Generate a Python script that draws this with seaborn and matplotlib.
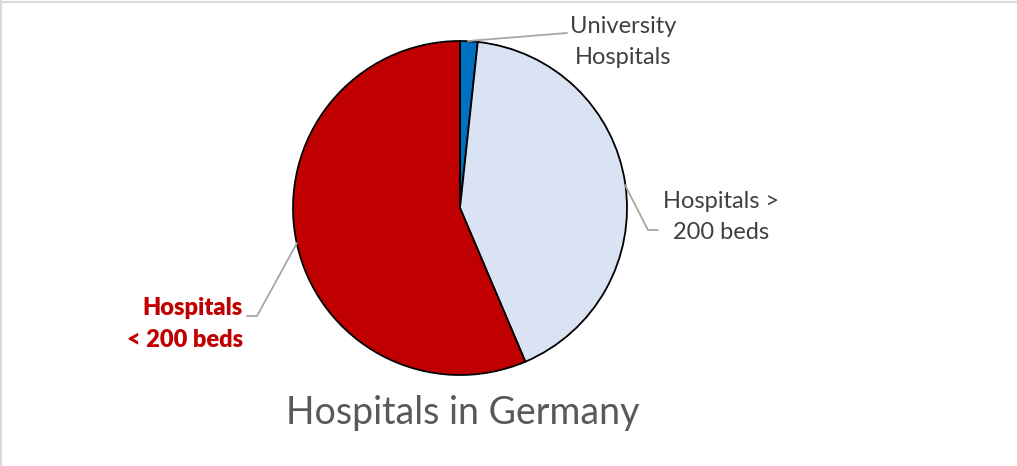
import matplotlib
matplotlib.use("Agg")
import matplotlib.pyplot as plt
import seaborn as sns
from matplotlib.lines import Line2D

# slice data, clockwise from 12 o'clock
labels = ["University\nHospitals", "Hospitals >\n200 beds", "Hospitals\n< 200 beds"]
shares = [1.7, 41.9, 56.4]
colors = ["#0070C0", "#DAE3F3", "#C00000"]

sns.set_theme(style="white")
plt.rcParams['font.family'] = ['Lato', 'DejaVu Sans']

W, H = 1017, 466
fig = plt.figure(figsize=(W / 100, H / 100), dpi=100)

# pie centre (460, 208) px, radius 167 px
cx, cy, r = 460, 208, 167
ax = fig.add_axes([(cx - r) / W, (H - cy - r) / H, 2 * r / W, 2 * r / H])
ax.pie(shares, colors=colors, startangle=90, counterclock=False, radius=1,
       wedgeprops={"edgecolor": "black", "linewidth": 1.3})
ax.set_xlim(-1, 1)
ax.set_ylim(-1, 1)
ax.set_aspect("equal")
ax.axis("off")


def px(x, y):
    return ((x - cx) / r, (cy - y) / r)


gray = "#A6A6A6"
txt = "#404040"
fs = 17

# University hospitals
ax.plot(*zip(px(468, 41), px(567, 33)), color=gray, lw=1.3, clip_on=False)
ax.text(*px(623, 42), labels[0], ha="center", va="center", fontsize=fs,
        color=txt, linespacing=1.55)

# > 200 beds
ax.plot(*zip(px(625, 185), px(648, 230), px(658, 230)), color=gray, lw=1.3,
        clip_on=False)
ax.text(*px(721, 217), labels[1], ha="center", va="center", fontsize=fs,
        color=txt, linespacing=1.55)

# < 200 beds
ax.plot(*zip(px(297, 243), px(257, 316), px(247, 316)), color=gray, lw=1.3,
        clip_on=False)
ax.text(*px(243, 324), labels[2], ha="right", va="center", fontsize=fs,
        color="#C00000", fontweight="heavy", linespacing=1.55)

fig.text(463 / W, 1 - 413 / H, "Hospitals in Germany", ha="center", va="center",
         fontsize=27, color="#595959")

# thin frame on top and left edges
fig.add_artist(Line2D([0, 1], [1 - 1.5 / H] * 2, color="#D9D9D9", lw=1.5,
                      transform=fig.transFigure))
fig.add_artist(Line2D([0.5 / W] * 2, [0, 1], color="#D9D9D9", lw=1.5,
                      transform=fig.transFigure))

fig.savefig("out.png", dpi=100, facecolor="white")
